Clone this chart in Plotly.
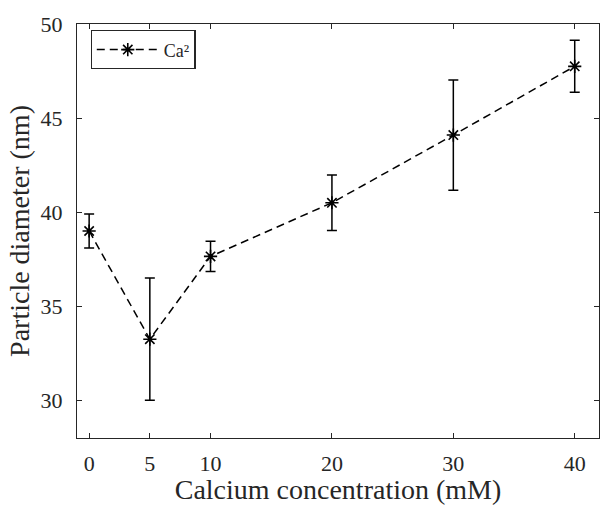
import plotly.graph_objects as go

conc = [0, 5, 10, 20, 30, 40]
diameter = [39.0, 33.25, 37.65, 40.5, 44.1, 47.75]
err = [0.9, 3.25, 0.8, 1.47, 2.93, 1.38]
xticks = [0, 5, 10, 20, 30, 40]
yticks = [30, 35, 40, 45, 50]

FONT = "Liberation Serif"
INK = "#262626"

fig = go.Figure()
fig.add_trace(go.Scatter(
    x=conc, y=diameter,
    mode="lines+markers",
    name="Ca²",
    line=dict(color="black", width=1.5, dash="8px,5px"),
    marker=dict(symbol="asterisk-open", size=11, color="black",
                line=dict(color="black", width=1.6)),
    error_y=dict(type="data", array=err, visible=True, color="black",
                 thickness=1.5, width=5),
))

axis_common = dict(
    showline=True, linecolor=INK, linewidth=1.2, mirror="allticks",
    ticks="inside", ticklen=5, tickcolor=INK, tickwidth=1.2,
    showgrid=False, zeroline=False,
    tickfont=dict(family=FONT, size=22, color=INK),
)

fig.update_layout(
    width=600, height=505,
    margin=dict(l=77, r=1, t=24, b=67),
    paper_bgcolor="white", plot_bgcolor="white",
    font=dict(family=FONT, color=INK),
    xaxis=dict(range=[-1, 42], tickvals=xticks,
               title=dict(text="Calcium concentration (mM)",
                          font=dict(family=FONT, size=28, color=INK), standoff=3),
               ticklabelstandoff=5,
               **axis_common),
    yaxis=dict(range=[28, 50], tickvals=yticks,
               title=dict(text="Particle diameter (nm)",
                          font=dict(family=FONT, size=28, color=INK), standoff=2),
               ticklabelstandoff=9,
               **axis_common),
    legend=dict(x=0.026, y=0.985, xanchor="left", yanchor="top",
                bgcolor="white", bordercolor=INK, borderwidth=1.2,
                font=dict(family=FONT, size=18, color=INK),
                itemwidth=62, tracegroupgap=0),
    showlegend=True,
)

fig.write_html("out.html")
